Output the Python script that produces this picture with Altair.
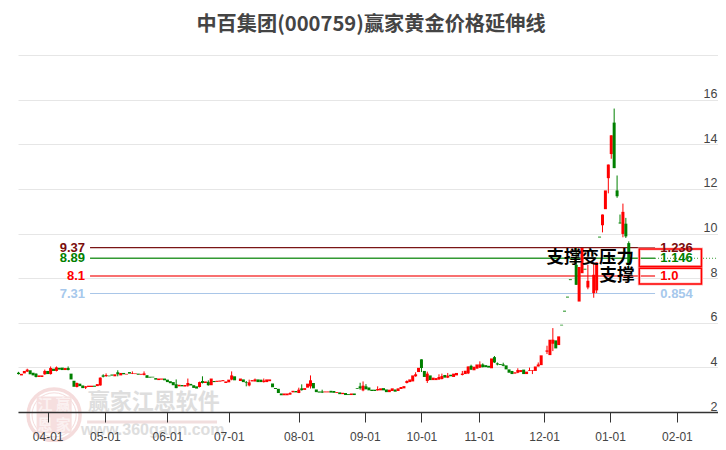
import altair as alt
import pandas as pd

TITLE = "中百集团(000759)赢家黄金价格延伸线"
FONT = "Liberation Sans"
CJK = "Noto Sans CJK SC"

opens = [3.76,3.64,3.73,3.81,3.87,3.76,3.72,3.57,3.57,3.69,3.84,3.70,3.94,3.84,3.98,3.99,3.88,3.97,3.72,3.40,
 3.12,3.27,3.19,3.09,3.12,3.12,3.18,3.16,3.19,3.64,3.61,3.63,3.68,3.60,3.78,3.64,3.75,3.68,3.79,3.71,
 3.70,3.72,3.67,3.66,3.65,3.58,3.58,3.52,3.43,3.45,3.50,3.45,3.38,3.34,3.24,3.15,3.21,3.14,3.18,3.26,
 3.20,3.15,3.12,3.39,3.30,3.35,3.20,3.39,3.35,3.36,3.38,3.30,3.33,3.45,3.60,None,3.39,3.46,3.34,3.19,
 3.37,3.37,3.46,3.45,3.34,3.34,3.38,3.28,3.08,3.04,2.83,2.75,2.75,2.78,2.88,2.94,2.85,3.06,2.99,3.09,
 3.15,3.30,3.01,2.92,2.92,2.88,2.88,2.95,2.94,2.85,2.88,2.80,2.85,2.80,2.76,2.83,3.06,3.15,2.97,3.15,
 3.10,3.00,3.00,2.97,2.97,3.07,3.01,2.89,2.94,3.01,2.94,3.03,3.06,3.30,3.34,3.37,3.60,3.79,4.36,3.84,
 3.39,3.64,3.43,3.43,3.46,3.48,3.66,3.54,3.67,3.57,3.64,None,3.66,3.70,3.73,4.07,3.87,3.94,3.99,4.13,
 4.10,4.07,3.96,4.46,4.18,4.15,4.13,4.09,3.91,3.84,3.72,3.76,3.79,3.90,3.70,3.85,3.84,3.84,4.04,4.10,
 None,4.70,4.55,5.06,5.21,5.00,5.91,6.54,7.17,7.95,None,8.60,6.95,8.22,8.42,7.58,None,7.33,7.45,9.86,
 10.37,11.09,12.48,13.56,14.97,11.93,10.49,9.98,10.44,9.57]
closes = [3.70,3.71,3.84,3.90,3.69,3.64,3.57,3.64,3.64,3.84,3.70,3.97,3.84,4.00,3.90,3.88,3.97,3.88,3.46,3.13,
 3.30,3.16,3.07,3.15,3.18,3.18,3.13,3.25,3.54,3.58,3.66,3.60,3.63,3.69,3.69,3.75,3.69,3.71,3.72,3.74,
 3.73,3.67,3.71,3.73,3.53,3.54,3.55,3.45,3.50,3.50,3.42,3.34,3.29,3.20,3.07,3.22,3.15,3.21,3.30,3.19,
 3.08,3.05,3.34,3.30,3.37,3.20,3.50,3.34,3.40,3.41,3.43,3.37,3.45,3.64,3.42,None,3.50,3.34,3.31,3.33,
 3.43,3.46,3.34,3.34,3.41,3.46,3.46,3.11,3.03,2.85,2.75,2.83,2.83,2.85,2.95,2.88,3.00,2.98,3.07,3.27,
 3.42,3.06,2.89,2.87,2.87,2.92,2.92,2.87,2.86,2.89,2.80,2.86,2.76,2.76,2.83,2.76,3.03,3.06,3.18,3.03,
 2.97,2.94,2.94,3.03,3.06,2.97,2.89,3.00,3.06,2.91,3.06,3.12,3.16,3.39,3.46,3.64,3.69,3.98,3.97,3.57,
 3.72,3.43,3.54,3.52,3.57,3.61,3.54,3.63,3.60,3.72,3.75,None,3.72,3.85,4.04,3.90,4.03,4.13,4.13,4.01,
 4.01,3.99,4.40,4.22,4.13,4.11,4.07,3.91,3.76,3.70,3.78,3.88,3.88,3.70,3.81,3.88,3.87,4.04,4.13,4.54,
 None,4.76,5.24,5.24,4.85,5.39,5.88,6.50,7.13,7.91,None,7.70,8.50,9.35,8.38,7.88,None,8.15,8.70,9.82,
 10.85,11.93,13.09,14.40,12.93,11.67,10.45,10.97,9.87,8.60]

wick_days = [0,3,6,9,11,13,17,20,23,28,29,30,34,39,43,54,58,62,63,65,73,78,79,81,84,93,96,97,100,104,
 116,117,118,119,123,133,136,138,140,144,145,147,152,154,155,158,159,163,164,166,171,175,176,178,181,183,191,195,
 197,198,200,202,203,204,205,206,207,208,209]
wick_highs = [3.80,3.94,3.73,3.90,4.04,4.04,4.04,3.32,3.16,3.55,3.69,3.73,3.87,3.82,3.82,3.46,3.50,3.36,3.60,3.42,3.82,3.39,3.45,3.50,3.50,2.89,3.09,3.24,3.64,3.00,
 3.06,3.31,3.37,3.25,3.15,3.42,3.78,4.36,3.81,3.69,3.72,3.75,3.84,4.04,4.12,4.27,4.18,4.51,4.22,4.21,3.96,3.99,3.87,4.22,4.97,5.76,9.35,8.60,
 8.70,8.70,10.85,13.09,14.40,15.60,12.60,10.85,11.34,10.70,9.65]
wick_lows = [3.68,3.79,3.55,3.67,3.68,3.82,3.87,3.10,3.03,3.18,3.55,3.57,3.60,3.70,3.64,3.07,3.13,3.10,3.28,3.18,3.42,3.15,3.15,3.37,3.32,2.78,2.85,2.96,3.05,2.85,
 3.03,3.00,2.93,3.00,2.96,3.28,3.58,3.79,3.30,3.44,3.46,3.52,3.64,3.70,3.88,3.97,4.00,4.20,4.09,4.05,3.74,3.84,3.70,4.04,4.60,4.73,7.70,7.50,
 7.12,7.33,10.05,11.80,13.35,12.93,11.60,10.45,9.83,9.80,8.55]

level_values = [9.37, 8.89, 8.1, 7.31]
level_left = ["9.37", "8.89", "8.1", "7.31"]
level_right = ["1.236", "1.146", "1.0", "0.854"]
level_colors = ["#7a0c0c", "#008000", "#ff0000", "#a6c8ec"]
line_colors = ["#7a1515", "#339a33", "#f87070", "#a9c6e8"]
line_widths = [1.2, 1.5, 2, 1.2]

tick_days = [10, 29.6, 51, 72, 96, 118.6, 138, 157.7, 180, 202.6, 225.5]
tick_labels = ["04-01","05-01","06-01","07-01","08-01","09-01","10-01","11-01","12-01","01-01","02-01"]
y_ticks = [2,4,6,8,10,12,14,16,18]

xs = alt.Scale(domain=[-0.17, 239.56], nice=False, zero=False, padding=0)
ys = alt.Scale(domain=[2, 18], nice=False, zero=False)

x_axis = alt.Axis(
    values=tick_days, title=None, grid=False, orient="bottom", zindex=1,
    labelExpr="%s[indexof(%s, datum.value)]" % (tick_labels, tick_days),
    domainColor="#333333", domainWidth=1.5, tickColor="#333333", tickSize=10, tickWidth=1,
    labelFont=FONT, labelFontSize=12, labelColor="#444444", labelPadding=9,
    labelBound=False, labelFlush=False, labelOverlap=False)
y_axis = alt.Axis(
    values=y_ticks, title=None, orient="right", grid=True, gridColor="#e6e6e6", gridWidth=1,
    ticks=False, domain=False, zindex=0,
    labelExpr="datum.value < 18 ? datum.label : ''",
    labelFont=FONT, labelFontSize=12.5, labelColor="#444444", labelAlign="right",
    labelBaseline="alphabetic", labelOffset=-2, labelPadding=-1,
    labelBound=False, labelFlush=False, labelOverlap=False)

def X(f="d"): return alt.X(f"{f}:Q", scale=xs, axis=x_axis)
def Y(f="v"): return alt.Y(f"{f}:Q", scale=ys, axis=y_axis)

# candles
rows = []
for i, (o, c) in enumerate(zip(opens, closes)):
    if o is not None:
        rows.append({"d": i, "o": o, "c": c, "up": "up" if c > o else "down"})
cdf = pd.DataFrame(rows)
up_by_day = dict(zip(cdf.d, cdf.up))
wdf = pd.DataFrame({"d": wick_days, "h": wick_highs, "l": wick_lows})
wdf["up"] = [up_by_day[d] for d in wick_days]
cscale = alt.Scale(domain=["up", "down"], range=["#ff0000", "#008000"])

wicks = alt.Chart(wdf).mark_rule(strokeWidth=1).encode(
    x=X(), y=Y("h"), y2="l:Q", color=alt.Color("up:N", scale=cscale, legend=None))
bodies = alt.Chart(cdf).mark_bar(size=3).encode(
    x=X(), y=Y("o"), y2="c:Q", color=alt.Color("up:N", scale=cscale, legend=None))

# watermark
wm_mark = pd.DataFrame({"d": [46.3], "v": [2.45], "t": ["赢家江恩软件"]})
wm_url = pd.DataFrame({"d": [46], "v": [1.2], "t": ["www.360gann.com"]})
wm_line = pd.DataFrame({"d": [23.5], "d2": [68], "v": [1.55]})
seal = pd.DataFrame({"d": [12.2], "v": [1.87]})
seal_box = pd.DataFrame({"d": [6.2], "d2": [18.2], "v": [2.7], "v2": [1.05]})
seal_txt = pd.DataFrame({"d": [9.1, 15.3, 9.1, 15.3], "v": [2.33, 2.33, 1.42, 1.42], "t": ["江", "赢", "恩", "家"]})

wm1 = alt.Chart(wm_mark).mark_text(font=CJK, fontSize=22, fontWeight="bold", color="#dedede").encode(x=X(), y=Y(), text="t:N")
wm2 = alt.Chart(wm_url).mark_text(font=FONT, fontSize=16, fontWeight="bold", color="#dedede").encode(x=X(), y=Y(), text="t:N")
wm3 = alt.Chart(wm_line).mark_rule(strokeWidth=3, color="#f1dede").encode(x=X(), x2="d2:Q", y=Y())
ring1 = alt.Chart(seal).mark_point(shape="circle", size=2700, filled=False, strokeWidth=3.5, color="#f5dcdc", opacity=1).encode(x=X(), y=Y())
ring2 = alt.Chart(seal).mark_point(shape="circle", size=1950, filled=False, strokeWidth=1, color="#f5dcdc", opacity=1).encode(x=X(), y=Y())
sbox = alt.Chart(seal_box).mark_rect(color="#f6dfdf").encode(x=X(), x2="d2:Q", y=Y(), y2="v2:Q")
stxt = alt.Chart(seal_txt).mark_text(font=CJK, fontSize=15, fontWeight="bold", color="#fbf1f1").encode(x=X(), y=Y(), text="t:N")

# levels
ldf = pd.DataFrame({"v": level_values, "a": level_left, "b": level_right, "k": level_colors,
                    "lc": line_colors, "w": line_widths, "d": [24.5]*4, "d2": [218]*4,
                    "dl": [22.8]*4, "dr": [219.8]*4})
lines = alt.Chart(ldf).mark_rule().encode(
    x=X(), x2="d2:Q", y=Y(), color=alt.Color("lc:N", scale=None),
    strokeWidth=alt.StrokeWidth("w:Q", scale=None))
dotted = alt.Chart(pd.DataFrame({"d": [218], "d2": [239.5], "v": [level_values[1]]})).mark_rule(
    color="#339a33", strokeDash=[1, 2], strokeWidth=1).encode(x=X(), x2="d2:Q", y=Y())
left_lab = alt.Chart(ldf).mark_text(align="right", font=FONT, fontSize=13, fontWeight="bold").encode(
    x=X("dl"), y=Y(), text="a:N", color=alt.Color("k:N", scale=None))
right_lab = alt.Chart(ldf).mark_text(align="left", font=FONT, fontSize=13, fontWeight="bold").encode(
    x=X("dr"), y=Y(), text="b:N", color=alt.Color("k:N", scale=None))

# annotation boxes + texts
boxes = pd.DataFrame({"d": [212.6, 212.6], "d2": [233.9, 233.9], "v": [9.30, 8.44], "v2": [8.52, 7.74]})
box_halo = alt.Chart(boxes).mark_rect(fillOpacity=0, stroke="#ffc0c0", strokeWidth=3).encode(x=X(), x2="d2:Q", y=Y(), y2="v2:Q")
box = alt.Chart(boxes).mark_rect(fillOpacity=0, stroke="#ff0000", strokeWidth=1.5).encode(x=X(), x2="d2:Q", y=Y(), y2="v2:Q")
ann = pd.DataFrame({"d": [210.8, 211.0], "v": [8.89, 8.1], "t": ["支撑变压力", "支撑"]})
ann_t = alt.Chart(ann).mark_text(align="right", font=CJK, fontSize=17.5, fontWeight="bold", color="#000000").encode(
    x=X(), y=Y(), text="t:N")

chart = alt.layer(wm1, wm2, wm3, ring1, ring2, sbox, stxt, lines, dotted, wicks, bodies,
                  ann_t, box_halo, box, left_lab, right_lab).resolve_scale(color="independent").properties(
    width=700, height=357,
    padding={"left": 10, "top": 47, "right": 0, "bottom": 30},
    autosize=alt.AutoSizeParams(type="none"),
    title=alt.TitleParams(TITLE, anchor="middle", font=CJK, fontSize=20.2, fontWeight="bold",
                          color="#444444", offset=8, dx=3),
).configure_view(stroke=None)

chart.save("out.html", embed_options={"renderer": "svg", "actions": False})
